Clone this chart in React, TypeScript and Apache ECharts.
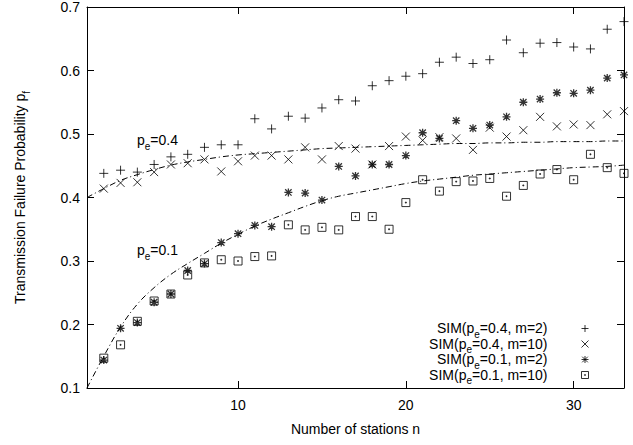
import React, { useEffect, useRef } from "react";
import * as echarts from "echarts";

const stations = [2, 3, 4, 5, 6, 7, 8, 9, 10, 11, 12, 13, 14, 15, 16, 17, 18, 19, 20, 21, 22, 23, 24, 25, 26, 27, 28, 29, 30, 31, 32, 33];

const simPe04m2 = [0.438, 0.443, 0.440, 0.452, 0.464, 0.468, 0.479, 0.483, 0.483, 0.524, 0.508, 0.528, 0.525, 0.541, 0.554, 0.552, 0.576, 0.584, 0.591, 0.595, 0.613, 0.621, 0.611, 0.617, 0.648, 0.628, 0.643, 0.644, 0.637, 0.634, 0.665, 0.677];
const simPe04m10 = [0.414, 0.423, 0.424, 0.440, 0.452, 0.454, 0.460, 0.441, 0.457, 0.466, 0.466, 0.460, 0.479, 0.460, 0.481, 0.477, 0.452, 0.481, 0.496, 0.490, 0.495, 0.493, 0.475, 0.510, 0.496, 0.506, 0.527, 0.512, 0.515, 0.514, 0.531, 0.536];
const simPe01m2 = [0.144, 0.194, 0.203, 0.235, 0.248, 0.285, 0.296, 0.329, 0.343, 0.356, 0.354, 0.408, 0.407, 0.396, 0.449, 0.434, 0.452, 0.452, 0.466, 0.502, 0.493, 0.521, 0.509, 0.514, 0.527, 0.550, 0.555, 0.565, 0.564, 0.569, 0.588, 0.593];
const simPe01m10 = [0.147, 0.168, 0.205, 0.237, 0.248, 0.278, 0.297, 0.302, 0.300, 0.307, 0.308, 0.357, 0.349, 0.353, 0.349, 0.370, 0.370, 0.350, 0.392, 0.428, 0.410, 0.425, 0.426, 0.430, 0.402, 0.419, 0.437, 0.444, 0.428, 0.468, 0.447, 0.438];

const curveN = [1, 2, 3, 4, 5, 6, 7, 8, 9, 10, 11, 12, 13, 14, 15, 16, 17, 18, 19, 20, 21, 22, 23, 24, 25, 26, 27, 28, 29, 30, 31, 32, 33];
const anaPe04 = [0.400, 0.414, 0.427, 0.436, 0.444, 0.451, 0.456, 0.460, 0.464, 0.467, 0.469, 0.471, 0.473, 0.475, 0.477, 0.478, 0.479, 0.480, 0.481, 0.482, 0.483, 0.484, 0.485, 0.485, 0.486, 0.486, 0.487, 0.487, 0.488, 0.488, 0.488, 0.489, 0.489];
const anaPe01 = [0.100, 0.150, 0.196, 0.232, 0.258, 0.279, 0.296, 0.312, 0.328, 0.342, 0.355, 0.366, 0.376, 0.386, 0.395, 0.402, 0.407, 0.412, 0.417, 0.422, 0.426, 0.429, 0.432, 0.435, 0.437, 0.439, 0.441, 0.443, 0.445, 0.447, 0.448, 0.449, 0.451];

const xTicks = [10, 20, 30];
const yMin = 0.1;
const yMax = 0.7;
const yStep = 0.1;

const seriesNames = [
  "SIM(pe=0.4, m=2)",
  "SIM(pe=0.4, m=10)",
  "SIM(pe=0.1, m=2)",
  "SIM(pe=0.1, m=10)",
];
const legendRich = [
  "{a|SIM(p}{s|e}{a|=0.4, m=2)}{g|}",
  "{a|SIM(p}{s|e}{a|=0.4, m=10)}{g|}",
  "{a|SIM(p}{s|e}{a|=0.1, m=2)}{g|}",
  "{a|SIM(p}{s|e}{a|=0.1, m=10)}{g|}",
];

const SYM_PLUS = "path://M0,-5L0,5M-5,0L5,0";
const SYM_CROSS = "path://M-5,-5L5,5M-5,5L5,-5";
const SYM_STAR = "path://M0,-5L0,5M-5,0L5,0M-4,-4L4,4M-4,4L4,-4";
const SYM_BOX = "path://M-5,-5L5,-5L5,5L-5,5ZM-0.6,-0.6L0.6,-0.6L0.6,0.6L-0.6,0.6Z";

const FONT = "'Liberation Sans', Arial, Helvetica, sans-serif";

const rich = {
  a: { fontFamily: FONT, fontSize: 14, color: "#000", lineHeight: 15, verticalAlign: "top" as const },
  s: { fontFamily: FONT, fontSize: 10, color: "#000", lineHeight: 7, padding: [8, 0, 0, 0], verticalAlign: "top" as const },
  g: { width: 29, lineHeight: 15 },
};

export default function App() {
  const ref = useRef<HTMLDivElement>(null);
  useEffect(() => {
    if (!ref.current) return;
    const chart = echarts.init(ref.current, null, { renderer: "svg" });
    const pts = (vals: number[]) => stations.map((n, i) => [n, vals[i]]);
    const curve = (vals: number[]) => curveN.map((n, i) => [n, vals[i]]);
    const symbols = [SYM_PLUS, SYM_CROSS, SYM_STAR, SYM_BOX];
    const sizes = [9, 8, 8, 8];
    const datas = [simPe04m2, simPe04m10, simPe01m2, simPe01m10];
    const scatterSeries = seriesNames.map((name, k) => ({
      name,
      type: "scatter",
      data: pts(datas[k]),
      symbol: symbols[k],
      symbolSize: sizes[k],
      symbolKeepAspect: true,
      itemStyle: { color: "transparent", borderColor: "#000", borderWidth: k === 2 ? 1.3 : 1 },
      z: 3,
    }));
    const lineStyle = { color: "#000", width: 1, type: [6, 3, 1, 3] as number[] };
    const axisCommon = {
      axisLine: { show: true, onZero: false, lineStyle: { color: "#000", width: 1 } },
      splitLine: { show: false },
    };
    chart.setOption({
      animation: false,
      backgroundColor: "#fff",
      grid: { left: 87, right: 9, top: 6, bottom: 57, containLabel: false },
      xAxis: [
        {
          type: "value",
          min: 1,
          max: 33,
          position: "bottom",
          ...axisCommon,
          axisTick: { show: true, inside: true, length: 7, customValues: xTicks, lineStyle: { color: "#000" } },
          axisLabel: { customValues: xTicks, margin: 10, fontFamily: FONT, fontSize: 14, color: "#000" },
          name: "Number of stations n",
          nameLocation: "middle",
          nameGap: 34,
          nameTextStyle: { fontFamily: FONT, fontSize: 14, color: "#000" },
        },
        {
          type: "value",
          min: 1,
          max: 33,
          position: "top",
          ...axisCommon,
          axisTick: { show: true, inside: true, length: 7, customValues: xTicks, lineStyle: { color: "#000" } },
          axisLabel: { show: false },
        },
      ],
      yAxis: [
        {
          type: "value",
          min: yMin,
          max: yMax,
          interval: yStep,
          position: "left",
          ...axisCommon,
          axisTick: { show: true, inside: true, length: 7, lineStyle: { color: "#000" } },
          axisLabel: { margin: 7, fontFamily: FONT, fontSize: 14, color: "#000", formatter: (v: number) => v.toFixed(1) },
          name: "{a|Transmission Failure Probability p}{s|f}",
          nameLocation: "middle",
          nameGap: 59,
          nameRotate: 90,
          nameTextStyle: { rich },
        },
        {
          type: "value",
          min: yMin,
          max: yMax,
          interval: yStep,
          position: "right",
          ...axisCommon,
          axisTick: { show: true, inside: true, length: 7, lineStyle: { color: "#000" } },
          axisLabel: { show: false },
        },
      ],
      legend: {
        data: seriesNames,
        orient: "vertical",
        right: 44,
        top: 321,
        padding: 0,
        align: "right",
        itemWidth: 7,
        itemHeight: 7,
        itemGap: -2.5,
        selectedMode: false,
        itemStyle: { borderWidth: 1 },
        formatter: (name: string) => legendRich[seriesNames.indexOf(name)],
        textStyle: { rich },
      },
      graphic: [
        { type: "text", left: 137, top: 133, style: { text: "{a|p}{s|e}{a|=0.4}", rich, fill: "#000" } },
        { type: "text", left: 137, top: 243, style: { text: "{a|p}{s|e}{a|=0.1}", rich, fill: "#000" } },
      ],
      series: [
        {
          name: "ana04",
          type: "line",
          data: curve(anaPe04),
          smooth: 0.4,
          showSymbol: false,
          symbol: "none",
          lineStyle,
          z: 2,
        },
        {
          name: "ana01",
          type: "line",
          data: curve(anaPe01),
          smooth: 0.4,
          showSymbol: false,
          symbol: "none",
          lineStyle,
          z: 2,
        },
        ...scatterSeries,
      ],
    });
    return () => chart.dispose();
  }, []);
  return <div ref={ref} style={{ position: "fixed", left: 0, top: 0, width: 633, height: 445 }} />;
}
